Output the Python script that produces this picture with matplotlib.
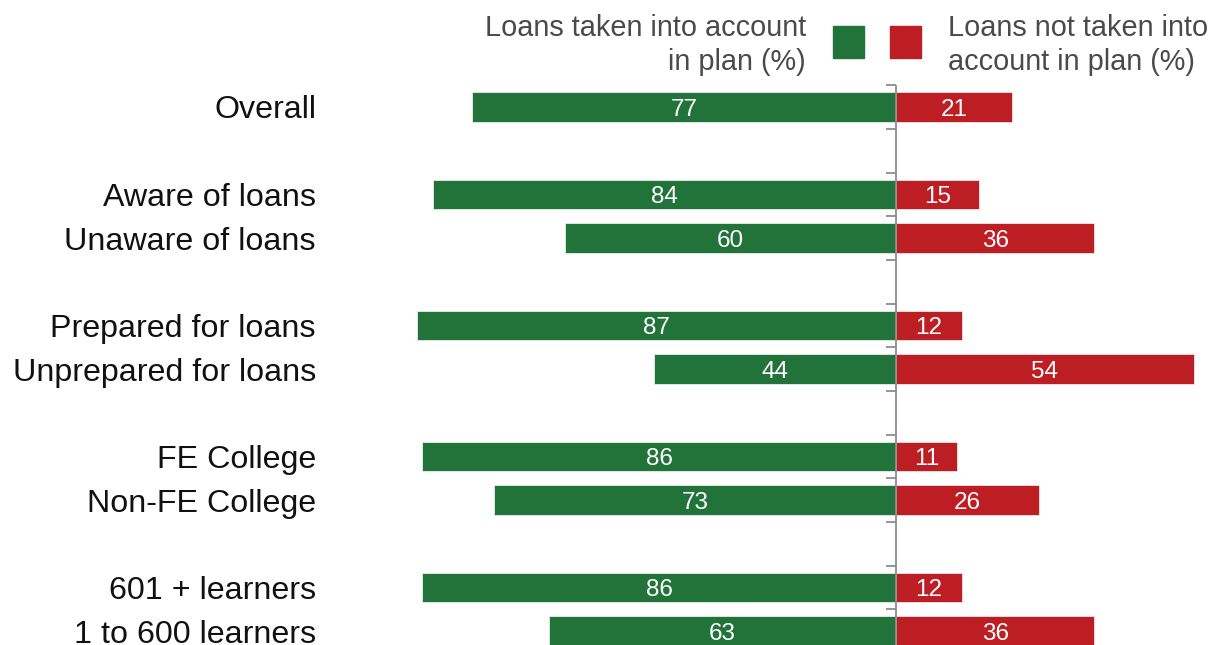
import matplotlib.pyplot as plt

categories = ["Overall", "Aware of loans", "Unaware of loans",
              "Prepared for loans", "Unprepared for loans",
              "FE College", "Non-FE College",
              "601 + learners", "1 to 600 learners"]
taken = [77, 84, 60, 87, 44, 86, 73, 86, 63]
not_taken = [21, 15, 36, 12, 54, 11, 26, 12, 36]
# row slots; blank slots separate the groups
slots = [0, 2, 3, 5, 6, 8, 9, 11, 12]

GREEN = "#22733a"
RED = "#bd1e24"
AXIS = "#8c8c8c"

plt.rcParams['font.family'] = ['Liberation Sans', 'DejaVu Sans']

W, H = 1214, 645
fig = plt.figure(figsize=(W / 100, H / 100), dpi=100)

px_per_unit = 5.51
center = 896
left_px, right_px = 340, W
top_px = 85.2
row_px = 43.67
bottom_px = top_px + 13 * row_px

ax = fig.add_axes([left_px / W, 1 - bottom_px / H,
                   (right_px - left_px) / W, (bottom_px - top_px) / H])
ax.set_xlim(-(center - left_px) / px_per_unit, (right_px - center) / px_per_unit)
ax.set_ylim(12.5, -0.5)

ax.barh(slots, [-v for v in taken], height=0.67, color=GREEN,
        edgecolor="#e8efe9", linewidth=0.6)
ax.barh(slots, not_taken, height=0.67, color=RED,
        edgecolor="#f2e4e4", linewidth=0.6)

for s, g, r in zip(slots, taken, not_taken):
    ax.text(-g / 2, s, str(g), ha="center", va="center_baseline",
            color="white", fontsize=17.5)
    ax.text(r / 2, s, str(r), ha="center", va="center_baseline",
            color="white", fontsize=17.5)

# central axis with ticks between slots
ax.axvline(0, color=AXIS, linewidth=1.3, zorder=3)
for b in [i + 0.5 for i in range(-1, 13)]:
    ax.plot([-10 / px_per_unit, 0], [b, b], color=AXIS, linewidth=1.3,
            zorder=3, clip_on=False, solid_capstyle="butt")

for s in ["top", "right", "bottom", "left"]:
    ax.spines[s].set_visible(False)
ax.set_xticks([])
ax.set_yticks([])

# category labels
for s, c in zip(slots, categories):
    fig.text(316 / W, 1 - (107 + s * row_px) / H, c, ha="right",
             va="center_baseline", fontsize=23.2, color="#111111")

# legend
fig.patches.append(plt.Rectangle((833 / W, 1 - 58 / H), 31 / W, 32 / H,
                                 transform=fig.transFigure, color=GREEN))
fig.patches.append(plt.Rectangle((890 / W, 1 - 58 / H), 31 / W, 32 / H,
                                 transform=fig.transFigure, color=RED))
fig.text(806 / W, 1 - 45 / H, "Loans taken into account\nin plan (%)",
         ha="right", va="center", fontsize=20.8, color="#4a4a4a",
         linespacing=1.27, multialignment="right")
fig.text(948 / W, 1 - 45 / H, "Loans not taken into\naccount in plan (%)",
         ha="left", va="center", fontsize=20.8, color="#4a4a4a",
         linespacing=1.27, multialignment="left")

fig.savefig("out.png", dpi=100)
